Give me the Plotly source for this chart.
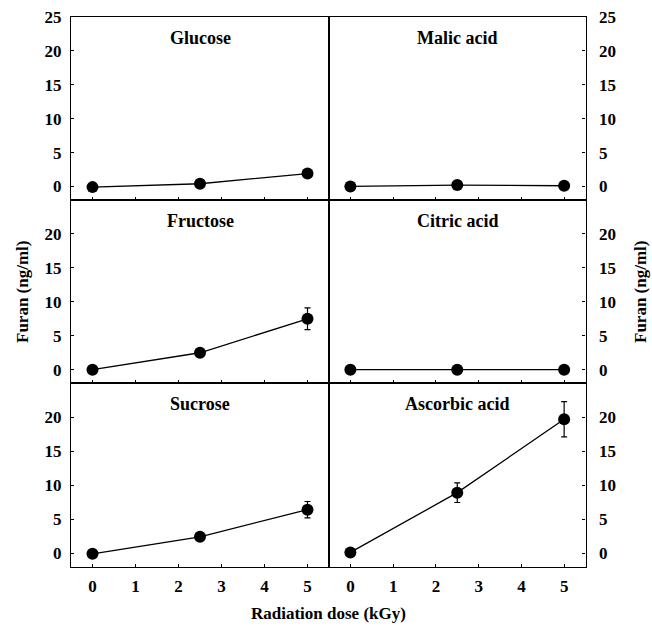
import plotly.graph_objects as go

dose = [0, 2.5, 5]
panels = ["Glucose", "Malic acid", "Fructose", "Citric acid", "Sucrose", "Ascorbic acid"]
values = {
    "Glucose": [-0.1, 0.4, 1.9],
    "Malic acid": [0.0, 0.2, 0.1],
    "Fructose": [0.0, 2.5, 7.5],
    "Citric acid": [0.0, 0.0, 0.0],
    "Sucrose": [-0.1, 2.4, 6.4],
    "Ascorbic acid": [0.1, 8.9, 19.7],
}
errors = {
    "Glucose": [0.1, 0.2, 0.3],
    "Malic acid": [0.0, 0.1, 0.1],
    "Fructose": [0.1, 0.3, 1.6],
    "Citric acid": [0.0, 0.0, 0.0],
    "Sucrose": [0.1, 0.3, 1.2],
    "Ascorbic acid": [0.2, 1.45, 2.6],
}
x_ticks = [0, 1, 2, 3, 4, 5]
y_ticks_top = [0, 5, 10, 15, 20, 25]
y_ticks_other = [0, 5, 10, 15, 20]

W, H = 652, 629
FONT = "Liberation Serif, Times New Roman, DejaVu Serif, serif"
FS = 17
xdom = [[71 / W, 329 / W], [329 / W, 585.5 / W]]
rows_px = [(17, 200), (200, 383.3), (383.3, 566.7)]
ydom = [[1 - b / H, 1 - t / H] for t, b in rows_px]

fig = go.Figure()
layout = dict(
    template="none",
    width=W, height=H, margin=dict(l=0, r=0, t=0, b=0, pad=0, autoexpand=False),
    paper_bgcolor="white", plot_bgcolor="white", showlegend=False,
    font=dict(family=FONT, size=FS, color="black"),
)
annotations = []
for i, name in enumerate(panels):
    r, c = divmod(i, 2)
    n = i + 1
    xa = "x" if n == 1 else f"x{n}"
    ya = "y" if n == 1 else f"y{n}"
    fig.add_trace(go.Scatter(
        x=dose, y=values[name], xaxis=xa, yaxis=ya, mode="lines+markers",
        line=dict(color="black", width=1.3),
        marker=dict(color="black", size=12),
        error_y=dict(type="data", array=errors[name], color="black", thickness=1.2, width=3),
    ))
    xkey = "xaxis" if n == 1 else f"xaxis{n}"
    ykey = "yaxis" if n == 1 else f"yaxis{n}"
    layout[xkey] = dict(
        domain=xdom[c], anchor=ya, range=[-0.5, 5.5], tickvals=x_ticks,
        ticks="inside", ticklen=3, tickwidth=1, tickcolor="black",
        showticklabels=(r == 2), showline=True, linecolor="black", linewidth=1.4,
        mirror=True, showgrid=False, zeroline=False, ticklabelstandoff=4,
        automargin=False,
        tickfont=dict(family=FONT, size=FS, color="black", weight="bold"),
    )
    layout[ykey] = dict(
        domain=ydom[r], anchor=xa, range=[-2, 25],
        tickvals=y_ticks_top if r == 0 else y_ticks_other,
        side="left" if c == 0 else "right",
        ticks="inside", ticklen=3, tickwidth=1, tickcolor="black",
        showline=True, linecolor="black", linewidth=1.4, mirror=True,
        showgrid=False, zeroline=False,
        ticklabelstandoff=5 if c == 0 else 9, automargin=False,
        tickfont=dict(family=FONT, size=FS, color="black", weight="bold"),
    )
    annotations.append(dict(
        text=f"<b>{name}</b>", xref=f"{xa} domain", yref=f"{ya} domain",
        x=0.5, y=1, yshift=-21, showarrow=False, xanchor="center", yanchor="middle",
        font=dict(family=FONT, size=18, color="black"),
    ))

annotations.append(dict(text="<b>Furan (ng/ml)</b>", xref="paper", yref="paper",
                        x=22 / W, y=1 - 292 / H, textangle=-90, showarrow=False,
                        xanchor="center", yanchor="middle",
                        font=dict(family=FONT, size=FS, color="black")))
annotations.append(dict(text="<b>Furan (ng/ml)</b>", xref="paper", yref="paper",
                        x=640 / W, y=1 - 292 / H, textangle=-90, showarrow=False,
                        xanchor="center", yanchor="middle",
                        font=dict(family=FONT, size=FS, color="black")))
annotations.append(dict(text="<b>Radiation dose (kGy)</b>", xref="paper", yref="paper",
                        x=328 / W, y=1 - 613 / H, showarrow=False,
                        xanchor="center", yanchor="middle",
                        font=dict(family=FONT, size=FS, color="black")))
layout["annotations"] = annotations
fig.update_layout(**layout)
fig.write_html("out.html")
